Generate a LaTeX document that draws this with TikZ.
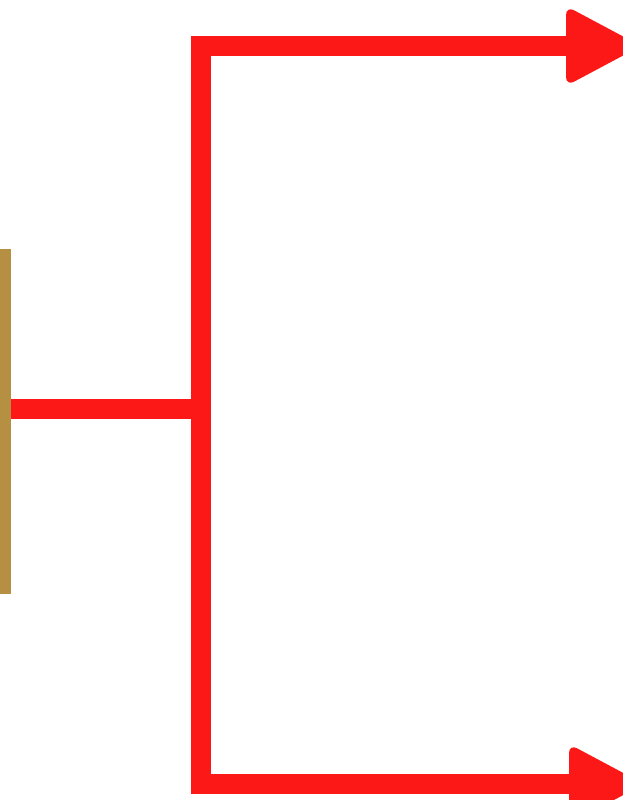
\documentclass[tikz,border=0pt]{standalone}
\definecolor{arrred}{RGB}{253,24,24}
\definecolor{tan}{RGB}{181,143,66}
\begin{document}
\begin{tikzpicture}[x=1pt,y=-1pt,
  redline/.style={draw=arrred,line width=20pt,line join=miter,line cap=butt},
  headfill/.style={fill=arrred,rounded corners=9pt}]
\useasboundingbox (0,0) rectangle (623,800);
\clip (0,0) rectangle (623,800);
\coordinate (barmid) at (11,409);
\coordinate (junction) at (201,409);
\coordinate (topcorner) at (201,46);
\coordinate (botcorner) at (201,784);
\coordinate (tophead) at (570,46);
\coordinate (bothead) at (573,784);
% tan bar
\fill[tan] (0,249) rectangle (11,594);
% branch lines
\draw[redline] (barmid) -- (junction);
\draw[redline] (tophead) -- (topcorner) -- (botcorner) -- (bothead);
% arrowheads
\fill[headfill] (566,46) -- (566,6) -- (641,46) -- (566,86) -- cycle;
\fill[headfill] (569,784) -- (569,744) -- (644,784) -- (569,824) -- cycle;
\end{tikzpicture}
\end{document}
